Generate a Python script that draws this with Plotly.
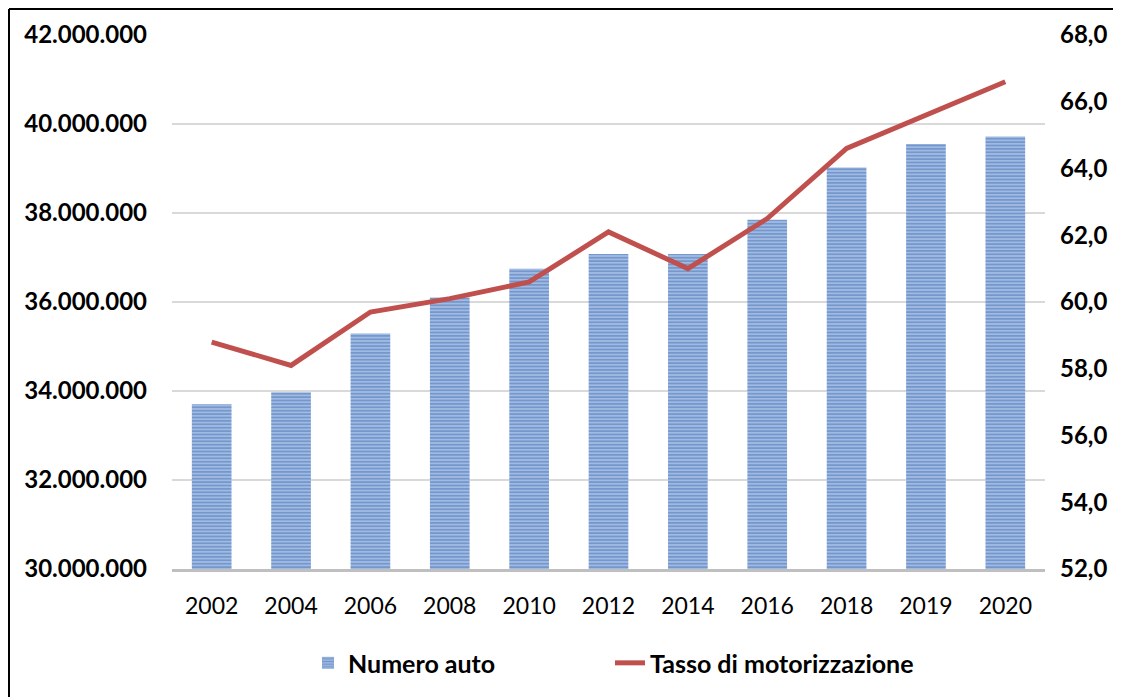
import plotly.graph_objects as go

anni = ["2002", "2004", "2006", "2008", "2010", "2012", "2014", "2016", "2018", "2019", "2020"]
numero_auto = [33700000, 33970000, 35290000, 36100000, 36750000, 37080000, 37080000, 37850000, 39020000, 39550000, 39720000]
tasso = [58.8, 58.1, 59.7, 60.1, 60.6, 62.1, 61.0, 62.5, 64.6, 65.6, 66.6]

left_ticks = [30000000, 32000000, 34000000, 36000000, 38000000, 40000000, 42000000]
left_labels = ["30.000.000", "32.000.000", "34.000.000", "36.000.000", "38.000.000", "40.000.000", "42.000.000"]
right_ticks = [52, 54, 56, 58, 60, 62, 64, 66, 68]
right_labels = ["52,0", "54,0", "56,0", "58,0", "60,0", "62,0", "64,0", "66,0", "68,0"]

FONT = "Lato"
W, H = 1113, 689          # page body has an 8px margin
L, T, PW, PH = 164, 27, 873, 535

fig = go.Figure()
fig.add_trace(go.Bar(
    x=anni, y=numero_auto, name="Numero auto", width=0.5,
    marker=dict(
        color="#b9cdeb",
        line=dict(width=0),
        pattern=dict(shape="-", size=3.4, solidity=0.68,
                     fgcolor="#2f63b0", bgcolor="#b9cdeb", fillmode="overlay"),
    ),
    yaxis="y", legend="legend",
))
fig.add_trace(go.Scatter(
    x=anni, y=tasso, name="Tasso di motorizzazione", mode="lines",
    line=dict(color="#c0504d", width=5),
    yaxis="y2", legend="legend2",
))

bx = (1 - L) / PW
by = (PH + T - 1) / PH
leg_font = dict(family=FONT, size=25, color="black", weight="bold")

fig.update_layout(
    width=W, height=H,
    margin=dict(l=L, r=W - L - PW, t=T, b=H - T - PH),
    paper_bgcolor="white", plot_bgcolor="white",
    font=dict(family=FONT, color="black"),
    showlegend=True,
    legend=dict(orientation="h", x=(308 - 8 - L) / PW, xanchor="left", y=-0.174, yanchor="middle",
                font=leg_font),
    legend2=dict(orientation="h", x=(610 - 8 - L) / PW, xanchor="left", y=-0.174, yanchor="middle",
                 font=leg_font),
    xaxis=dict(type="category", showgrid=False, showline=True, linecolor="#bfbfbf", linewidth=3,
               ticks="", tickfont=dict(family=FONT, size=23, color="black"),
               ticklabelstandoff=14, zeroline=False),
    yaxis=dict(range=[30000000, 42000000], tickvals=left_ticks, ticktext=left_labels,
               showgrid=True, gridcolor="#d9d9d9", gridwidth=2, zeroline=False, showline=False,
               tickfont=dict(family=FONT, size=24, color="black", weight="bold"),
               ticklabelstandoff=24),
    yaxis2=dict(range=[52, 68], tickvals=right_ticks, ticktext=right_labels, overlaying="y",
                side="right", showgrid=False, zeroline=False, showline=False,
                tickfont=dict(family=FONT, size=24, color="black", weight="bold"),
                ticklabelstandoff=14),
    shapes=[
        dict(type="line", xref="paper", yref="paper", x0=bx, x1=1.2,
             y0=by, y1=by, line=dict(color="black", width=2)),
        dict(type="line", xref="paper", yref="paper", x0=bx, x1=bx,
             y0=by, y1=-0.4, line=dict(color="black", width=2)),
    ],
)

fig.write_html("out.html")
